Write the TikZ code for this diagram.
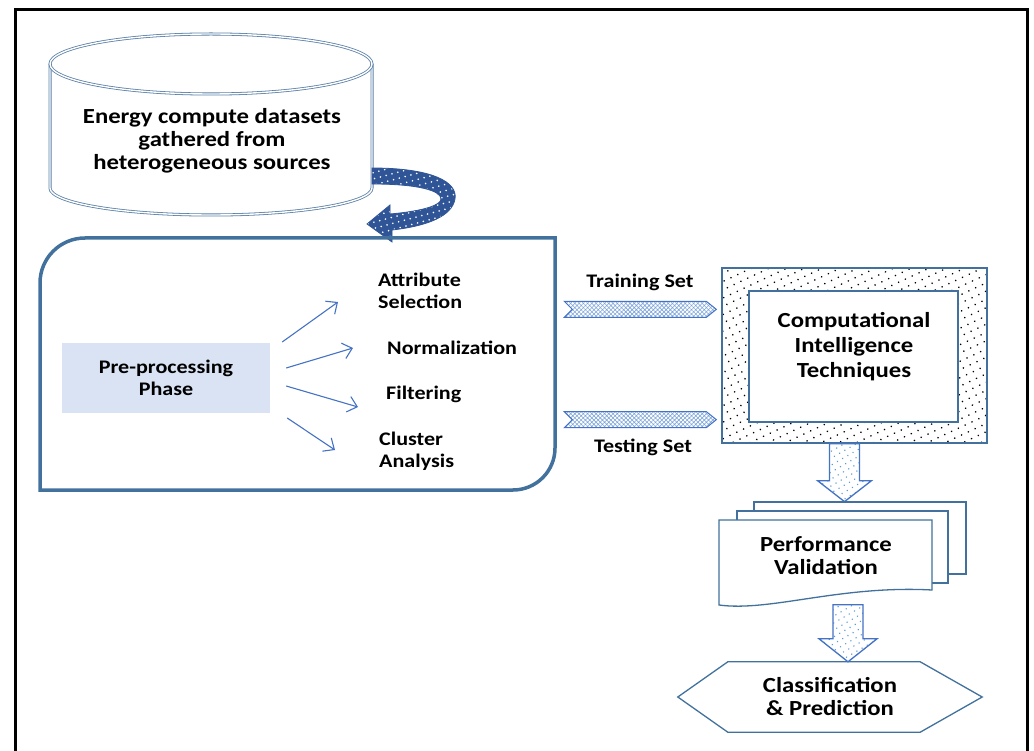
\documentclass[tikz,border=0pt]{standalone}
\usepackage{fontspec}
\setmainfont{Carlito}[FakeStretch=1.15]
\usetikzlibrary{calc,patterns.meta,arrows.meta}
\definecolor{frameblue}{HTML}{41719C}
\definecolor{storeblue}{HTML}{5A7FA8}
\definecolor{linkblue}{HTML}{4472C4}
\definecolor{phasefill}{HTML}{DAE3F3}
\definecolor{ribbonblue}{HTML}{2F5597}
\definecolor{hatchblue}{HTML}{7FA6DC}
\definecolor{dotblue}{HTML}{5B9BD5}
\begin{document}
\begin{tikzpicture}
[x=1pt,y=-1pt,
  txt/.style={font=\bfseries\fontsize{19.2}{22}\selectfont,align=center,inner sep=0pt},%
  bigtxt/.style={txt,font=\bfseries\fontsize{21.5}{23}\selectfont},%
  itemtext/.style={txt,align=left,anchor=west},%
  outline/.style={draw=frameblue,line width=1.3pt},%
  storeline/.style={draw=storeblue,double=white,double distance=1.4pt,line width=0.8pt},%
  phaseframe/.style={draw=frameblue,line width=3.5pt},%
  linkarrow/.style={-{Straight Barb[length=9pt,width=16pt]},draw=linkblue,line width=1.1pt},%
  flatarrow/.style={draw=linkblue,line width=1pt,preaction={fill=white},
    pattern={Hatch[distance=3pt,angle=45,line width=0.6pt]},pattern color=hatchblue},%
  downarrow/.style={draw=linkblue,line width=1.3pt,preaction={fill=white},
    pattern={Dots[distance=6pt,radius=0.8pt,angle=30]},pattern color=dotblue},%
  ribbon/.style={draw=ribbonblue,line width=0.8pt,preaction={fill=ribbonblue},
    pattern={Dots[distance=6pt,radius=0.9pt,angle=15]},pattern color=white},%
  dotframe/.style={draw=frameblue,line width=1.3pt,preaction={fill=white},
    pattern={Dots[distance=7.5pt,radius=0.9pt,angle=25]},pattern color=black},%
  docpage/.style={outline,fill=white}]
\useasboundingbox (0,0) rectangle (1034,751);
%% outer frame
\draw[line width=3pt] (15.5,10) rectangle (1027,780);
%% data store
\draw[storeline] (50,64) -- (50,188) arc[start angle=180,end angle=0,x radius=161,y radius=27] -- (372,64);
\draw[storeline] (211,64) ellipse [x radius=161,y radius=30];
\node[bigtxt] (data) at (212,141) {Energy compute datasets\\gathered from\\heterogeneous sources};
\path[ribbon] (372,168) .. controls (432,168) and (458,182) .. (455,199)
  .. controls (452,216) and (428,226) .. (392,230) -- (392,242) -- (367,224)
  -- (390,205) -- (390,214) .. controls (424,211) and (441,205) .. (441,199)
  .. controls (441,191) and (420,184) .. (372,184) -- cycle;
%% pre-processing
\draw[phaseframe] (40,490) -- (40,283) arc[start angle=180,end angle=270,radius=45]
  -- (555,238) -- (555,448) arc[start angle=0,end angle=90,radius=42] -- cycle;
\node[txt,fill=phasefill,minimum width=208,minimum height=70] (phase) at (166,378) {Pre-processing\\Phase};
\node[itemtext] (attr) at (378,291) {Attribute\\Selection};
\node[itemtext] (norm) at (387,348) {Normalization};
\node[itemtext] (filt) at (386,394) {Filtering};
\node[itemtext] (clus) at (379,451) {Cluster\\Analysis};
\foreach \step/\sx/\sy/\ex/\ey in {attr/12/-36/-40/11, norm/16/-10/-34/0,
  filt/16/8/-28/13, clus/17/40/-44/-1} {
  \draw[linkarrow] ($(phase.east)+(\sx,\sy)$) -- ($(\step.west)+(\ex,\ey)$);
}
%% techniques
\node[dotframe,minimum width=265,minimum height=175] (ci) at (854.5,355.5) {};
\node[outline,fill=white,minimum width=209,minimum height=131] (tech) at (853.5,356.5) {};
\node[bigtxt,font=\bfseries\fontsize{21.5}{25}\selectfont] (techtext) at (854,347) {Computational\\Intelligence\\Techniques};
\node[txt] (trainlbl) at (640,282) {Training Set};
\node[txt] (testlbl) at (643,447) {Testing Set};
\coordinate (traintip) at ($(ci.north west)+(-5,42)$);
\coordinate (testtip) at ($(ci.south west)+(-5,-24)$);
\foreach \tip in {traintip,testtip} {
  \draw[flatarrow] (\tip) -- ++(-10,-8) -- ++(-142,0) -- ++(8,8) -- ++(-8,8) -- ++(142,0) -- cycle;
}
\draw[downarrow] ($(ci.south)+(-25,0)$) -- ++(30,0) -- ++(0,37) -- ++(12,0)
  -- ++(-27,21) -- ++(-27,-21) -- ++(12,0) -- cycle;
%% validation
\draw[docpage] (754,502) rectangle (966,574);
\draw[docpage] (737,511) rectangle (948,583);
\draw[docpage] (719,520) -- (932,520) -- (932,590) .. controls (840,585) and (770,612) .. (719,605) -- cycle;
\node[bigtxt] (perf) at (826,556) {Performance\\Validation};
%% result
\node[bigtxt,minimum width=304,minimum height=70] (hex) at (830,697) {Classification\\\& Prediction};
\draw[outline] (hex.west) -- ([xshift=50pt]hex.north west) -- ([xshift=-62pt]hex.north east)
  -- (hex.east) -- ([xshift=-62pt]hex.south east) -- ([xshift=50pt]hex.south west) -- cycle;
\draw[downarrow] ($(hex.north)+(18,0)$) -- ++(-29,-23) -- ++(14,0) -- ++(0,-34)
  -- ++(30,0) -- ++(0,34) -- ++(14,0) -- cycle;
\end{tikzpicture}
\end{document}
